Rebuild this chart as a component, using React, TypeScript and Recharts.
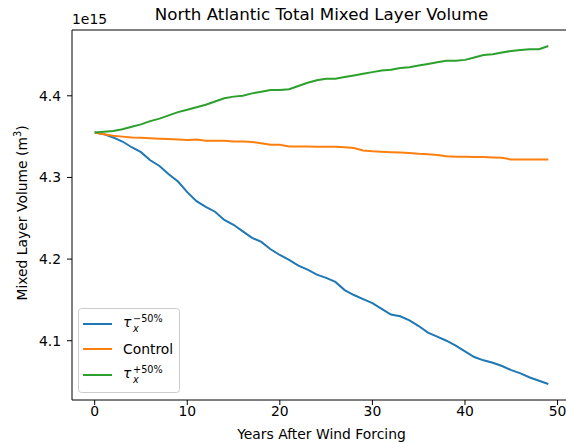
import { LineChart, Line, XAxis, YAxis, ReferenceLine } from 'recharts'

// values in units of 1e15 m^3
const years = [
  0, 1, 2, 3, 4, 5, 6, 7, 8, 9, 10, 11, 12, 13, 14, 15, 16, 17, 18, 19, 20, 21, 22, 23, 24,
  25, 26, 27, 28, 29, 30, 31, 32, 33, 34, 35, 36, 37, 38, 39, 40, 41, 42, 43, 44, 45, 46, 47, 48, 49,
]

const tauMinus50 = [
  4.355, 4.353, 4.349, 4.344, 4.337, 4.331, 4.321, 4.314, 4.304, 4.295,
  4.282, 4.271, 4.264, 4.258, 4.248, 4.242, 4.234, 4.226, 4.221, 4.212,
  4.205, 4.199, 4.192, 4.187, 4.181, 4.177, 4.172, 4.162, 4.156, 4.151,
  4.146, 4.139, 4.132, 4.13, 4.125, 4.118, 4.11, 4.105, 4.1, 4.094,
  4.087, 4.08, 4.076, 4.073, 4.069, 4.064, 4.06, 4.055, 4.051, 4.047,
]

const control = [
  4.355, 4.353, 4.351, 4.35, 4.349, 4.3485, 4.348, 4.3475, 4.347, 4.3465,
  4.346, 4.3465, 4.345, 4.345, 4.345, 4.344, 4.344, 4.3435, 4.342, 4.34,
  4.34, 4.338, 4.338, 4.338, 4.3375, 4.3375, 4.3375, 4.337, 4.336, 4.333,
  4.332, 4.3315, 4.331, 4.3305, 4.33, 4.329, 4.3285, 4.3275, 4.326, 4.3255,
  4.3255, 4.325, 4.325, 4.3245, 4.324, 4.322, 4.322, 4.322, 4.322, 4.322,
]

const tauPlus50 = [
  4.355, 4.356, 4.357, 4.359, 4.362, 4.365, 4.369, 4.372, 4.376, 4.38,
  4.383, 4.386, 4.389, 4.393, 4.397, 4.399, 4.4, 4.403, 4.405, 4.407,
  4.407, 4.408, 4.412, 4.416, 4.419, 4.421, 4.421, 4.423, 4.425, 4.427,
  4.429, 4.431, 4.432, 4.434, 4.435, 4.437, 4.439, 4.441, 4.443, 4.443,
  4.444, 4.447, 4.45, 4.451, 4.453, 4.455, 4.456, 4.457, 4.457, 4.461,
]

const xTicks = [0, 10, 20, 30, 40, 50]
const yTicks = [4.1, 4.2, 4.3, 4.4]

const data = years.map((y, i) => ({
  year: y,
  minus: tauMinus50[i],
  control: control[i],
  plus: tauPlus50[i],
}))

const FONT = '"DejaVu Sans", sans-serif'
const BLUE = '#1f77b4'
const ORANGE = '#ff7f0e'
const GREEN = '#2ca02c'
const Y_MAX = 4.4806

function TauLabel({ y, sign }: { y: number; sign: string }) {
  return (
    <g fontFamily={FONT} fill="#000">
      <text x={45} y={y + 3} fontSize={13.9} fontStyle="italic">τ</text>
      <text x={55} y={y - 2} fontSize={9.7}>{sign}50%</text>
      <text x={55} y={y + 8} fontSize={9.7} fontStyle="italic">x</text>
    </g>
  )
}

function LegendBox() {
  return (
    <svg
      width={103}
      height={86}
      style={{ position: 'absolute', left: 78, top: 308 }}
    >
      <rect x={0.5} y={0.5} width={101} height={84} rx={3} fill="#fff" fillOpacity={0.8} stroke="#cccccc" />
      <line x1={5} x2={34} y1={16} y2={16} stroke={BLUE} strokeWidth={2} />
      <line x1={5} x2={34} y1={41} y2={41} stroke={ORANGE} strokeWidth={2} />
      <line x1={5} x2={34} y1={67} y2={67} stroke={GREEN} strokeWidth={2} />
      <TauLabel y={16} sign="−" />
      <text x={45} y={46} fontSize={13.9} fontFamily={FONT} fill="#000">Control</text>
      <TauLabel y={67} sign="+" />
    </svg>
  )
}

export default function App() {
  return (
    <div style={{ position: 'absolute', left: 0, top: 0, width: 566, height: 443, overflow: 'hidden', background: '#fff' }}>
      <LineChart
        width={580}
        height={443}
        data={data}
        margin={{ top: 30, right: 9, left: 0, bottom: 0 }}
      >
        <XAxis
          dataKey="year"
          type="number"
          domain={[-2.45, 51.45]}
          ticks={xTicks}
          allowDataOverflow
          height={43}
          stroke="#000"
          tickSize={5}
          tickMargin={1}
          tick={{ fill: '#000', fontSize: 13.9, fontFamily: FONT }}
        />
        <YAxis
          type="number"
          domain={[4.0274, Y_MAX]}
          ticks={yTicks}
          allowDataOverflow
          width={72}
          stroke="#000"
          tickSize={5}
          tickMargin={6}
          tickFormatter={(v: number) => v.toFixed(1)}
          tick={{ fill: '#000', fontSize: 13.9, fontFamily: FONT }}
        />
        <ReferenceLine y={Y_MAX} stroke="#000" strokeWidth={1} />
        <Line type="linear" dataKey="minus" stroke={BLUE} strokeWidth={2} dot={false} isAnimationActive={false} />
        <Line type="linear" dataKey="control" stroke={ORANGE} strokeWidth={2} dot={false} isAnimationActive={false} />
        <Line type="linear" dataKey="plus" stroke={GREEN} strokeWidth={2} dot={false} isAnimationActive={false} />
      </LineChart>

      <div style={{ position: 'absolute', left: 0, width: 643, top: 4, textAlign: 'center', fontFamily: FONT, fontSize: 16.7, color: '#000', whiteSpace: 'nowrap' }}>
        North Atlantic Total Mixed Layer Volume
      </div>
      <div style={{ position: 'absolute', left: 72, top: 11, fontFamily: FONT, fontSize: 13.9, color: '#000' }}>1e15</div>
      <div style={{ position: 'absolute', left: 0, width: 643, top: 426, textAlign: 'center', fontFamily: FONT, fontSize: 13.9, color: '#000', whiteSpace: 'nowrap' }}>
        Years After Wind Forcing
      </div>
      <div
        style={{
          position: 'absolute',
          left: 22,
          top: 213,
          transform: 'translate(-50%, -50%) rotate(-90deg)',
          fontFamily: FONT,
          fontSize: 13.9,
          color: '#000',
          whiteSpace: 'nowrap',
        }}
      >
        Mixed Layer Volume (m<sup style={{ fontSize: 9.7, lineHeight: 0 }}>3</sup>)
      </div>
      <LegendBox />
    </div>
  )
}
